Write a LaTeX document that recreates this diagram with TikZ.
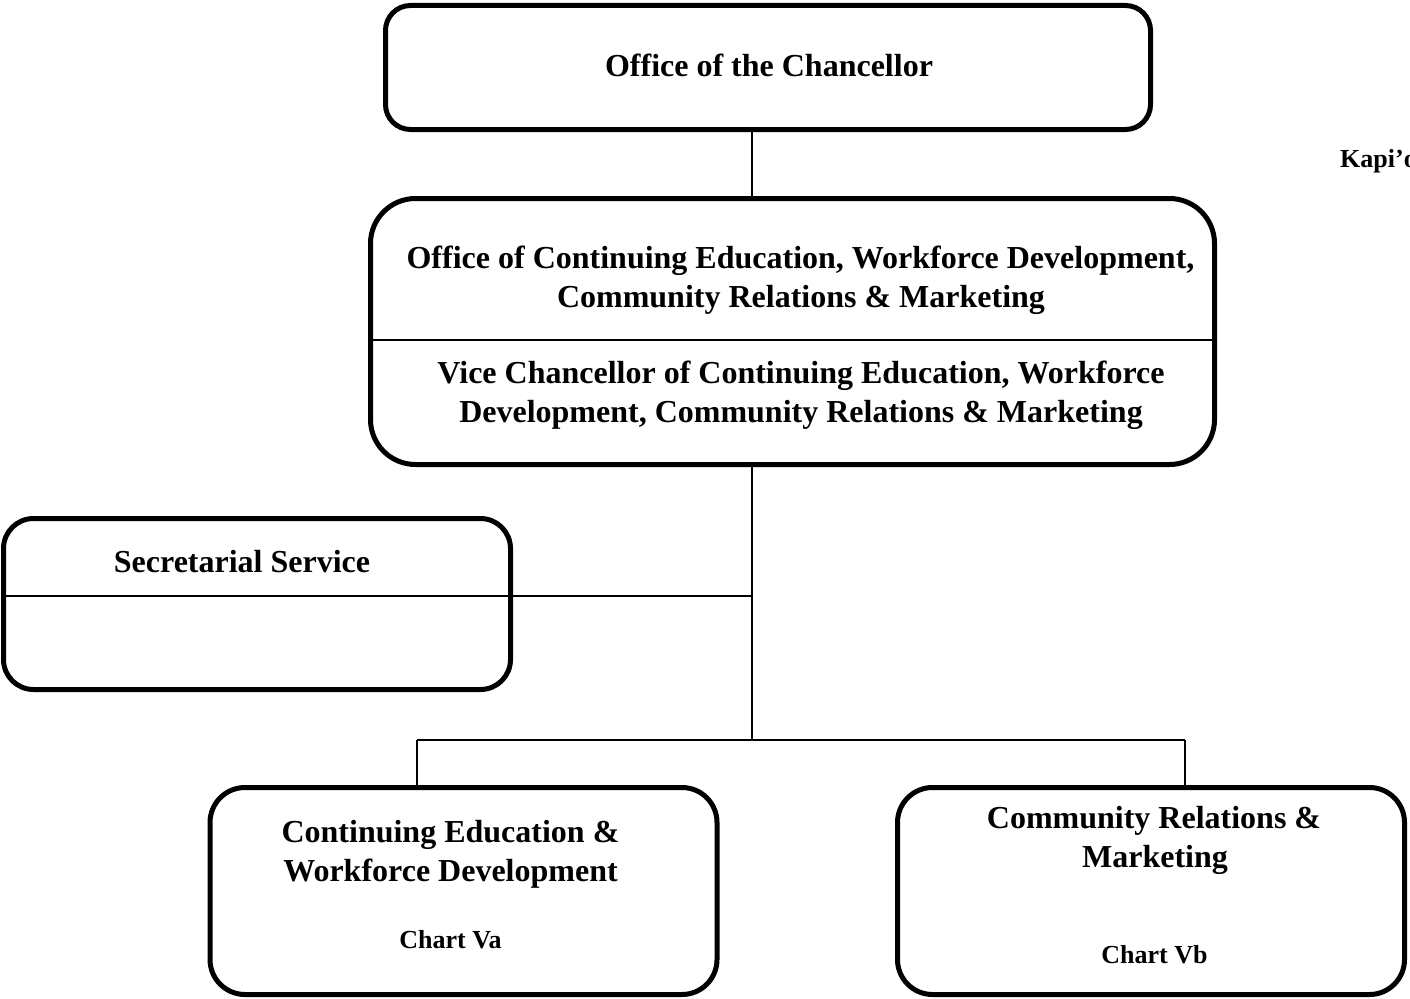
\documentclass[tikz,border=0pt]{standalone}
\usepackage{fontspec}
\setmainfont{Liberation Serif}
\begin{document}
\begin{tikzpicture}[x=1pt,y=-1pt,
  box/.style={draw=black,line width=5pt,rectangle,inner sep=0pt,outer sep=0pt},
  conn/.style={draw=black,line width=2pt},
  divider/.style={draw=black,line width=2pt},
  big/.style={font=\fontsize{32}{39}\selectfont\bfseries,anchor=base,inner sep=0pt},
  small/.style={font=\fontsize{26}{31}\selectfont\bfseries,anchor=base,inner sep=0pt}]
\useasboundingbox (0,0) rectangle (1410,998);
\clip (0,0) rectangle (1410,998);
% boxes
\node[box,rounded corners=25pt,minimum width=765pt,minimum height=124pt] (chan) at (768,67.5) {};
\node[box,rounded corners=45pt,minimum width=844pt,minimum height=266pt] (vc) at (792.5,331.5) {};
\node[box,rounded corners=30pt,minimum width=507pt,minimum height=171pt] (sec) at (257,604) {};
\node[box,rounded corners=35pt,minimum width=507pt,minimum height=207pt] (ce) at (463.5,891) {};
\node[box,rounded corners=35pt,minimum width=507pt,minimum height=207pt] (cr) at (1151,891) {};
% coordinates
\coordinate (trunk) at (752,740);
\coordinate (secj) at (752,596);
\coordinate (vcdl) at (vc.west |- 0,340);
\coordinate (vcdr) at (vc.east |- 0,340);
\coordinate (lj) at (417,740);
\coordinate (rj) at (1185,740);
% dividers
\draw[divider] (vcdl) -- (vcdr);
% connectors
\draw[conn] (chan.south -| 752,0) -- (vc.north -| 752,0);
\draw[conn] (vc.south -| 752,0) -- (trunk);
\draw[conn] (sec.west |- secj) -- (secj);
\draw[conn] (lj) -- (rj);
\draw[conn] (lj) -- (ce.north -| lj);
\draw[conn] (rj) -- (cr.north -| rj);
% texts
\node[big] (t1) at (769,77) {Office of the Chancellor};
\node[big] (t2) at (800.5,268) {Office of Continuing Education, Workforce Development,};
\node[big] (t3) at (801,307) {Community Relations \& Marketing};
\node[big] (t4) at (801,383) {Vice Chancellor of Continuing Education, Workforce};
\node[big] (t5) at (801,422) {Development, Community Relations \& Marketing};
\node[big] (t6) at (242,572) {Secretarial Service};
\node[big] (t7) at (450.5,842) {Continuing Education \&};
\node[big] (t8) at (450.5,881) {Workforce Development};
\node[small] (t9) at (450.5,948) {Chart Va};
\node[big] (t10) at (1154,828) {Community Relations \&};
\node[big] (t11) at (1155,867) {Marketing};
\node[small] (t12) at (1154.5,963) {Chart Vb};
\node[font=\fontsize{26}{31}\selectfont\bfseries,anchor=base west,inner sep=0pt] (kap) at (1340,167) {Kapi’o};
\end{tikzpicture}
\end{document}
